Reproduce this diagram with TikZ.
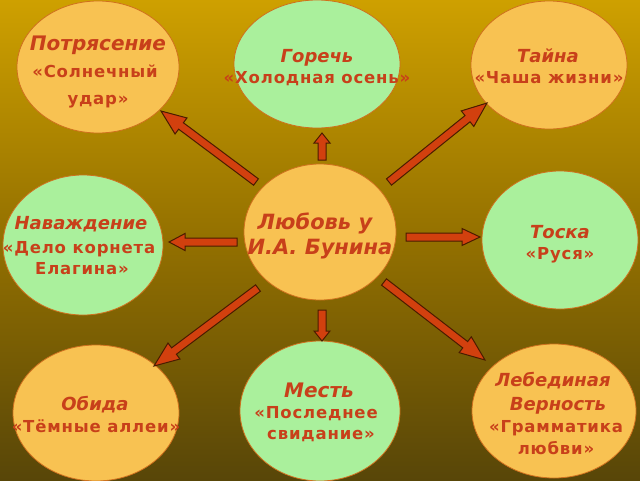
\documentclass[tikz,border=0pt]{standalone}
\usepackage{fontspec}
\setmainfont{DejaVu Sans}
\newfontfamily\subfont[LetterSpace=5]{DejaVu Sans}
\usetikzlibrary{calc,shapes.geometric}
\definecolor{bgtop}{HTML}{CEA000}
\definecolor{bgmid}{HTML}{937000}
\definecolor{bgbot}{HTML}{584608}
\definecolor{orfill}{HTML}{F8C252}
\definecolor{grfill}{HTML}{AAF09C}
\definecolor{bord}{HTML}{D0701E}
\definecolor{txt}{HTML}{C8401A}
\definecolor{arrfill}{HTML}{D2400E}
\definecolor{arrline}{HTML}{4A1C00}
\tikzset{
  oval/.style={ellipse, draw=bord, line width=0.8pt, inner sep=0pt},
  orov/.style={oval, fill=orfill},
  grov/.style={oval, fill=grfill},
  ttl/.style={text=txt, font=\bfseries\itshape\fontsize{18}{20}\selectfont, inner sep=0pt, anchor=base},
  sub/.style={text=txt, font=\subfont\bfseries\fontsize{16.5}{18}\selectfont, inner sep=0pt, anchor=base},
  blk/.style={fill=arrfill, draw=arrline, line width=1pt, line join=miter}
}
% block arrow: tail, head, half shaft width, half head width, head length (all dimensions)
\newcommand\blockarr[5]{%
  \coordinate (hb) at ($(#2)!#5!(#1)$);
  \draw[blk] ($(#1)!#3!90:(#2)$)
    -- ($(hb)!#3!-90:(#1)$)
    -- ($(hb)!#4!-90:(#1)$)
    -- (#2)
    -- ($(hb)!#4!90:(#1)$)
    -- ($(hb)!#3!90:(#1)$)
    -- ($(#1)!#3!-90:(#2)$) -- cycle;}
\begin{document}
\begin{tikzpicture}[x=1pt,y=-1pt]
\useasboundingbox (0,0) rectangle (640,480);
\shade[top color=bgtop, bottom color=bgbot, middle color=bgmid] (0,0) rectangle (640,480);

% ellipses
\node[orov, minimum width=162pt, minimum height=132pt] (pot) at (98,67) {};
\node[grov, minimum width=166pt, minimum height=128pt] (gor) at (317,64) {};
\node[orov, minimum width=156pt, minimum height=128pt] (tai) at (549,65) {};
\node[grov, minimum width=160pt, minimum height=140pt] (nav) at (83,245) {};
\node[orov, minimum width=152pt, minimum height=136pt] (lub) at (320,232) {};
\node[grov, minimum width=156pt, minimum height=138pt] (tos) at (560,240) {};
\node[orov, minimum width=166pt, minimum height=136pt] (obi) at (96,413) {};
\node[grov, minimum width=160pt, minimum height=140pt] (mes) at (320,411) {};
\node[orov, minimum width=164pt, minimum height=134pt] (leb) at (554,411) {};

% texts
\node[ttl, font=\bfseries\itshape\fontsize{20}{22}\selectfont] (t1a) at (98,50) {Потрясение};
\node[sub] (t1b) at (95,77) {«Солнечный};
\node[sub] (t1c) at (98,104) {удар»};

\node[ttl] (t2a) at (317,62) {Горечь};
\node[sub] (t2b) at (317,83) {«Холодная осень»};

\node[ttl] (t3a) at (548,62) {Тайна};
\node[sub] (t3b) at (549,83) {«Чаша жизни»};

\node[ttl] (t4a) at (81,229) {Наваждение};
\node[sub] (t4b) at (79,253) {«Дело корнета};
\node[sub] (t4c) at (82,274) {Елагина»};

\node[ttl, font=\bfseries\itshape\fontsize{21}{23}\selectfont] (t5a) at (315,229) {Любовь у};
\node[ttl, font=\bfseries\itshape\fontsize{21}{23}\selectfont] (t5b) at (320,254) {И.А. Бунина};

\node[ttl] (t6a) at (560,238) {Тоска};
\node[sub] (t6b) at (560,259) {«Руся»};

\node[ttl] (t7a) at (95,410) {Обида};
\node[sub] (t7b) at (96,432) {«Тёмные аллеи»};

\node[ttl, font=\bfseries\itshape\fontsize{20}{22}\selectfont] (t8a) at (319,397) {Месть};
\node[sub] (t8b) at (316,418) {«Последнее};
\node[sub] (t8c) at (321,439) {свидание»};

\node[ttl] (t9a) at (553,386) {Лебединая};
\node[ttl] (t9b) at (558,410) {Верность};
\node[sub] (t9c) at (556,432) {«Грамматика};
\node[sub] (t9d) at (556,454) {любви»};

% arrow endpoints
\coordinate (a1t) at (256,182); \coordinate (a1h) at (161,111);
\coordinate (a2t) at (322,160); \coordinate (a2h) at (322,133);
\coordinate (a3t) at (389,182); \coordinate (a3h) at (487,103);
\coordinate (a4t) at (237,242); \coordinate (a4h) at (169,242);
\coordinate (a5t) at (406,237); \coordinate (a5h) at (480,237);
\coordinate (a6t) at (258,288); \coordinate (a6h) at (154,366);
\coordinate (a7t) at (322,310); \coordinate (a7h) at (322,341);
\coordinate (a8t) at (384,282); \coordinate (a8h) at (485,360);

\blockarr{a1t}{a1h}{4pt}{10pt}{25pt}
\blockarr{a2t}{a2h}{4pt}{8pt}{10pt}
\blockarr{a3t}{a3h}{4pt}{10pt}{25pt}
\blockarr{a4t}{a4h}{4pt}{8.5pt}{16pt}
\blockarr{a5t}{a5h}{4pt}{8.5pt}{18pt}
\blockarr{a6t}{a6h}{4pt}{10pt}{25pt}
\blockarr{a7t}{a7h}{4pt}{8pt}{10pt}
\blockarr{a8t}{a8h}{4pt}{10pt}{25pt}
\end{tikzpicture}
\end{document}
